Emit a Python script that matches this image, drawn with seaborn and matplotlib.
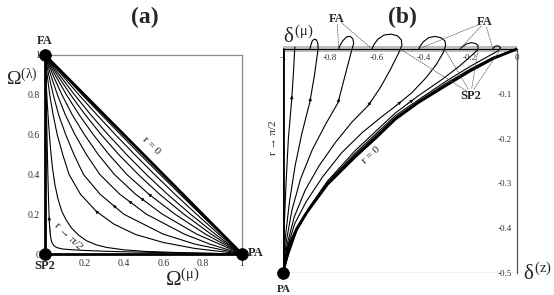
import numpy as np
import pandas as pd
import matplotlib
matplotlib.use("Agg")
import matplotlib.pyplot as plt
import seaborn as sns

sns.set_style("white")
plt.rcParams["font.family"] = ["Liberation Serif", "DejaVu Serif"]
plt.rcParams["mathtext.fontset"] = "custom"
plt.rcParams["mathtext.rm"] = "Liberation Serif"
plt.rcParams["mathtext.it"] = "Liberation Serif"
plt.rcParams["mathtext.bf"] = "Liberation Serif:bold"

# ---------------- panel (a): Omega(mu) vs Omega(lambda), FA (0,1) -> PA (1,0)
a_r0_x = [0, 1]
a_r0_y = [1, 0]
a_pi2_x = [0, 0.006, 0.01, 0.014, 0.018, 0.022, 0.027, 0.034, 0.045, 0.06, 0.09, 0.14, 0.2, 0.3, 0.45, 0.6, 0.8, 1.0]
a_pi2_y = [1, 0.8, 0.6, 0.42, 0.27, 0.16, 0.095, 0.06, 0.042, 0.032, 0.025, 0.021, 0.018, 0.014, 0.01, 0.007, 0.004, 0]
a_c2_x = [0, 0.005, 0.012, 0.02, 0.028, 0.037, 0.05, 0.065, 0.085, 0.108, 0.135, 0.17, 0.21, 0.26, 0.313, 0.4, 0.508, 0.65, 0.8, 1.0]
a_c2_y = [1, 0.88, 0.75, 0.63, 0.53, 0.44, 0.35, 0.28, 0.215, 0.17, 0.13, 0.095, 0.067, 0.046, 0.033, 0.021, 0.013, 0.008, 0.004, 0]
a_c3_x = [0, 0.011, 0.024, 0.041, 0.062, 0.09, 0.122, 0.18, 0.262, 0.35, 0.46, 0.6, 0.76, 1.0]
a_c3_y = [1, 0.9, 0.8, 0.7, 0.6, 0.5, 0.4, 0.3, 0.213, 0.15, 0.098, 0.058, 0.028, 0]
a_c4_x = [0, 0.019, 0.042, 0.069, 0.105, 0.147, 0.195, 0.28, 0.4, 0.6, 0.76, 1.0]
a_c4_y = [1, 0.9, 0.8, 0.7, 0.6, 0.5, 0.4, 0.3, 0.2, 0.1, 0.05, 0]
a_c5_x = [0, 0.029, 0.063, 0.103, 0.152, 0.21, 0.278, 0.38, 0.515, 0.707, 0.836, 1.0]
a_c5_y = [1, 0.9, 0.8, 0.7, 0.6, 0.5, 0.4, 0.3, 0.2, 0.1, 0.05, 0]
a_c6_x = [0, 0.04, 0.086, 0.138, 0.2, 0.27, 0.352, 0.46, 0.596, 0.77, 1.0]
a_c6_y = [1, 0.9, 0.8, 0.7, 0.6, 0.5, 0.4, 0.3, 0.2, 0.1, 0]
a_c7_x = [0, 0.051, 0.109, 0.173, 0.245, 0.325, 0.415, 0.528, 0.66, 0.814, 1.0]
a_c7_y = [1, 0.9, 0.8, 0.7, 0.6, 0.5, 0.4, 0.3, 0.2, 0.1, 0]
a_c8_x = [0, 0.062, 0.13, 0.204, 0.285, 0.374, 0.473, 0.582, 0.705, 0.843, 1.0]
a_c8_y = [1, 0.9, 0.8, 0.7, 0.6, 0.5, 0.4, 0.3, 0.2, 0.1, 0]
a_c9_x = [0, 0.073, 0.15, 0.232, 0.32, 0.414, 0.514, 0.622, 0.739, 0.864, 1.0]
a_c9_y = [1, 0.9, 0.8, 0.7, 0.6, 0.5, 0.4, 0.3, 0.2, 0.1, 0]
a_c10_x = [0, 0.085, 0.172, 0.263, 0.357, 0.455, 0.556, 0.66, 0.769, 0.882, 1.0]
a_c10_y = [1, 0.9, 0.8, 0.7, 0.6, 0.5, 0.4, 0.3, 0.2, 0.1, 0]
a_c11_x = [0, 0.094, 0.189, 0.286, 0.384, 0.483, 0.584, 0.686, 0.789, 0.894, 1.0]
a_c11_y = [1, 0.9, 0.8, 0.7, 0.6, 0.5, 0.4, 0.3, 0.2, 0.1, 0]
# arrowhead positions (x) on some curves, pointing towards FA
a_arrow_x = [0.027, 0.262, 0.35, 0.43, 0.49, 0.53]

a_pts_x = [0, 1, 0]
a_pts_y = [1, 0, 0]
a_ticks = [0, 0.2, 0.4, 0.6, 0.8, 1]
a_tick_labels = ["0", "0.2", "0.4", "0.6", "0.8", "1"]

# ---------------- panel (b): delta(mu) vs delta(z), PA (-1,-0.5)
b_pi2_x = [-1, -1]
b_pi2_y = [-0.5, 0]
b_c2_x = [-1, -0.995, -0.987, -0.977, -0.963, -0.955, -0.95, -0.949]
b_c2_y = [-0.5, -0.4, -0.3, -0.2, -0.114, -0.05, 0, 0.004]
b_c3_x = [-1, -0.99, -0.972, -0.948, -0.92, -0.885, -0.866, -0.854, -0.85, -0.851, -0.857, -0.866, -0.875, -0.881, -0.885]
b_c3_y = [-0.5, -0.42, -0.34, -0.26, -0.19, -0.118, -0.06, -0.015, 0, 0.012, 0.02, 0.022, 0.018, 0.008, 0]
b_c4_x = [-1, -0.986, -0.962, -0.925, -0.875, -0.82, -0.765, -0.735, -0.705, -0.698, -0.701, -0.712, -0.728, -0.745, -0.756, -0.762]
b_c4_y = [-0.5, -0.43, -0.36, -0.29, -0.225, -0.17, -0.12, -0.06, 0, 0.012, 0.022, 0.028, 0.027, 0.018, 0.008, 0]
b_c5_x = [-1, -0.982, -0.952, -0.905, -0.845, -0.775, -0.705, -0.637, -0.585, -0.54, -0.505, -0.492, -0.494, -0.51, -0.538, -0.568, -0.594, -0.61, -0.62]
b_c5_y = [-0.5, -0.435, -0.375, -0.315, -0.26, -0.208, -0.163, -0.127, -0.087, -0.045, -0.008, 0.008, 0.02, 0.029, 0.033, 0.031, 0.022, 0.011, 0]
b_c6_x = [-1, -0.98, -0.95, -0.9, -0.83, -0.75, -0.66, -0.58, -0.52, -0.45, -0.39, -0.345, -0.315, -0.305, -0.308, -0.325, -0.352, -0.378, -0.4, -0.413, -0.42]
b_c6_y = [-0.5, -0.44, -0.39, -0.34, -0.285, -0.232, -0.186, -0.152, -0.128, -0.098, -0.065, -0.035, -0.008, 0.008, 0.018, 0.025, 0.028, 0.025, 0.016, 0.007, 0]
b_c7_x = [-1, -0.975, -0.94, -0.89, -0.81, -0.69, -0.6, -0.52, -0.42, -0.32, -0.245, -0.195, -0.168, -0.166, -0.176, -0.195, -0.216, -0.233, -0.244]
b_c7_y = [-0.5, -0.45, -0.4, -0.355, -0.295, -0.226, -0.182, -0.143, -0.104, -0.068, -0.038, -0.015, -0.002, 0.007, 0.012, 0.014, 0.011, 0.005, 0]
b_c8_x = [-1, -0.975, -0.94, -0.89, -0.81, -0.69, -0.6, -0.52, -0.4, -0.3, -0.2, -0.125, -0.08, -0.07, -0.076, -0.088, -0.098, -0.103]
b_c8_y = [-0.5, -0.455, -0.405, -0.36, -0.298, -0.232, -0.188, -0.149, -0.106, -0.071, -0.039, -0.017, -0.004, 0.002, 0.006, 0.007, 0.004, 0]
b_c9_x = [-1, -0.976, -0.942, -0.895, -0.81, -0.69, -0.6, -0.52, -0.41, -0.31, -0.2, -0.1, 0]
b_c9_y = [-0.5, -0.458, -0.405, -0.363, -0.299, -0.236, -0.192, -0.153, -0.113, -0.079, -0.045, -0.018, 0]
b_r0_x = [-1, -0.985, -0.97, -0.94, -0.9, -0.81, -0.69, -0.6, -0.521, -0.42, -0.308, -0.2, -0.1, 0]
b_r0_y = [-0.5, -0.465, -0.433, -0.4, -0.366, -0.302, -0.24, -0.197, -0.157, -0.119, -0.083, -0.049, -0.021, 0]
# arrowhead level (delta z) on curves c2..c7
b_arrow_y = [-0.114, -0.118, -0.12, -0.127, -0.127, -0.123]

b_fa_left = [-0.762, -0.62]
b_fa_right = [-0.42, -0.244, -0.103]
b_sp2 = [-0.5, -0.31, -0.166, -0.07]
b_xticks = [-1, -0.8, -0.6, -0.4, -0.2, 0]
b_xtick_labels = ["-1", "-0.8", "-0.6", "-0.4", "-0.2", "0"]
b_yticks = [-0.5, -0.4, -0.3, -0.2, -0.1]
b_ytick_labels = ["-0.5", "-0.4", "-0.3", "-0.2", "-0.1"]


def frame(curves):
    rows = []
    for i, (xs, ys) in enumerate(curves):
        for j, (x, y) in enumerate(zip(xs, ys)):
            rows.append((i, j, x, y))
    return pd.DataFrame(rows, columns=["curve", "order", "x", "y"])


def head(ax, x0, y0, x1, y1):
    ax.annotate("", xy=(x1, y1), xytext=(x0, y0),
                arrowprops=dict(arrowstyle="-|>", color="k", lw=0.4,
                                mutation_scale=5, shrinkA=0, shrinkB=0))


W, H = 554, 295
fig = plt.figure(figsize=(W / 100, H / 100), dpi=100)

# ---------- (a)
ax1 = fig.add_axes([45 / W, 1 - 254 / H, 197 / W, 199 / H])
thin_a = [(a_pi2_x, a_pi2_y), (a_c2_x, a_c2_y), (a_c3_x, a_c3_y), (a_c4_x, a_c4_y),
          (a_c5_x, a_c5_y), (a_c6_x, a_c6_y), (a_c7_x, a_c7_y), (a_c8_x, a_c8_y),
          (a_c9_x, a_c9_y), (a_c10_x, a_c10_y), (a_c11_x, a_c11_y)]
sns.lineplot(data=frame(thin_a), x="x", y="y", units="curve", estimator=None,
             sort=False, color="black", linewidth=0.8, ax=ax1)
sns.lineplot(data=frame([(a_r0_x, a_r0_y)]), x="x", y="y", units="curve",
             estimator=None, sort=False, color="black", linewidth=2.0, ax=ax1)
arrow_curves = [thin_a[0], thin_a[2], thin_a[3], thin_a[4], thin_a[5], thin_a[6]]
for (xs, ys), xa in zip(arrow_curves, a_arrow_x):
    y0 = np.interp(xa, xs, ys)
    x1 = xa - 0.006
    head(ax1, xa, y0, x1, np.interp(x1, xs, ys))
sns.scatterplot(x=a_pts_x, y=a_pts_y, s=70, color="black", edgecolor="black",
                ax=ax1, clip_on=False, zorder=6)
ax1.set_xlim(0, 1)
ax1.set_ylim(0, 1)
ax1.set_xlabel("")
ax1.set_ylabel("")
ax1.set_xticks(a_ticks[1:], a_tick_labels[1:])
ax1.set_yticks(a_ticks, a_tick_labels)
ax1.set_xticks(np.arange(0.1, 1.0, 0.2), minor=True)
ax1.set_yticks(np.arange(0.1, 1.0, 0.2), minor=True)
ax1.tick_params(which="both", direction="out", width=0.6, pad=1, labelsize=7,
                colors="#333333")
ax1.tick_params(which="major", length=2.5)
ax1.tick_params(which="minor", length=1.5)
for s in ["left", "bottom"]:
    ax1.spines[s].set_color("black")
    ax1.spines[s].set_linewidth(2.0)
for s in ["top", "right"]:
    ax1.spines[s].set_color("#8a8a8a")
    ax1.spines[s].set_linewidth(0.9)
ax1.text(0, 1.068, "FA", ha="center", va="center", fontsize=9, weight="bold")
ax1.text(1.03, 0.005, "PA", ha="left", va="center", fontsize=9, weight="bold")
ax1.text(0, -0.062, "SP2", ha="center", va="center", fontsize=9, weight="bold")
ax1.text(0.54, 0.545, "r = 0", rotation=-45, ha="center", va="center", fontsize=8)
ax1.text(0.117, 0.09, "r → π/2", rotation=-44, ha="center", va="center", fontsize=8)

# ---------- (b)
ax2 = fig.add_axes([283 / W, 1 - 273 / H, 234 / W, 242 / H])
thin_b = [(b_c2_x, b_c2_y), (b_c3_x, b_c3_y), (b_c4_x, b_c4_y), (b_c5_x, b_c5_y),
          (b_c6_x, b_c6_y), (b_c7_x, b_c7_y), (b_c8_x, b_c8_y), (b_c9_x, b_c9_y)]
ax2.axhspan(-0.006, 0.006, xmin=0, xmax=1, color="#bdbdbd", lw=0, zorder=0)
ax2.axhline(-0.5, color="#8a8a8a", lw=0.9)
sns.lineplot(data=frame(thin_b), x="x", y="y", units="curve", estimator=None,
             sort=False, color="black", linewidth=0.8, ax=ax2)
sns.lineplot(data=frame([(b_r0_x, b_r0_y), (b_pi2_x, b_pi2_y)]), x="x", y="y",
             units="curve", estimator=None, sort=False, color="black",
             linewidth=2.0, ax=ax2)
for (xs, ys), ya in zip(thin_b[:6], b_arrow_y):
    xs = np.asarray(xs)
    ys = np.asarray(ys)
    k = int(np.argmax(ys >= 0)) + 1
    x0 = np.interp(ya, ys[:k], xs[:k])
    x1 = np.interp(ya + 0.01, ys[:k], xs[:k])
    head(ax2, x0, ya, x1, ya + 0.01)
sns.scatterplot(x=[b_r0_x[0]], y=[b_r0_y[0]], s=70, color="black",
                edgecolor="black", ax=ax2, clip_on=False, zorder=6)
ax2.set_xlim(-1, 0)
ax2.set_ylim(-0.5, 0.04)
ax2.set_xlabel("")
ax2.set_ylabel("")
ax2.spines["top"].set_visible(False)
ax2.spines["right"].set_visible(False)
ax2.spines["bottom"].set_position(("data", 0))
ax2.spines["left"].set_position(("data", 0))
ax2.spines["left"].set_bounds(-0.5, 0)
ax2.spines["bottom"].set_color("black")
ax2.spines["bottom"].set_linewidth(0.8)
ax2.spines["left"].set_color("#555555")
ax2.spines["left"].set_linewidth(0.9)
ax2.set_xticks(b_xticks, b_xtick_labels)
ax2.set_yticks(b_yticks, b_ytick_labels)
ax2.set_xticks(np.arange(-0.9, 0, 0.2), minor=True)
ax2.set_yticks(np.arange(-0.45, 0, 0.1), minor=True)
ax2.tick_params(which="both", direction="out", width=0.6, pad=1, labelsize=6.5,
                colors="#333333")
ax2.tick_params(which="major", length=2.5)
ax2.tick_params(which="minor", length=1.5)

dash = dict(arrowstyle="-", color="#555555", lw=0.5, linestyle=(0, (2, 1.5)),
            shrinkA=4, shrinkB=0)
for xt in b_fa_left:
    ax2.annotate("", xy=(xt, 0), xytext=(-0.769, 0.067), arrowprops=dash,
                 annotation_clip=False)
for xt in b_fa_right:
    ax2.annotate("", xy=(xt, 0), xytext=(-0.137, 0.06), arrowprops=dash,
                 annotation_clip=False)
for xt in b_sp2:
    ax2.annotate("", xy=(xt, 0), xytext=(-0.197, -0.1), arrowprops=dash,
                 annotation_clip=False)
ax2.text(-0.769, 0.067, "FA", ha="center", va="center", fontsize=9, weight="bold",
         clip_on=False)
ax2.text(-0.137, 0.06, "FA", ha="center", va="center", fontsize=9, weight="bold",
         clip_on=False)
ax2.text(-0.197, -0.105, "SP2", ha="center", va="center", fontsize=9,
         weight="bold", clip_on=False)
ax2.text(-0.625, -0.237, "r = 0", rotation=42, ha="center", va="center", fontsize=8)

# ---------- figure-level labels
fig.text(145 / W, 1 - 17 / H, "(a)", ha="center", va="center", fontsize=17,
         weight="bold")
fig.text(402 / W, 1 - 17 / H, "(b)", ha="center", va="center", fontsize=17,
         weight="bold")
fig.text(6 / W, 1 - 85 / H, r"$\Omega^{(\lambda)}$", ha="left", va="baseline",
         fontsize=14)
fig.text(165 / W, 1 - 286 / H, r"$\Omega^{(\mu)}$", ha="left", va="baseline",
         fontsize=15)
fig.text(283 / W, 1 - 43 / H, r"$\delta^{(\mu)}$", ha="left", va="baseline",
         fontsize=15)
fig.text(523 / W, 1 - 280 / H, r"$\delta^{(z)}$", ha="left", va="baseline",
         fontsize=15)
fig.text(273 / W, 1 - 138 / H, "r → π/2", rotation=90, ha="center", va="center",
         fontsize=8)
fig.text(284 / W, 1 - 289 / H, "PA", ha="center", va="center", fontsize=8,
         weight="bold")

fig.savefig("out.png", dpi=100)
